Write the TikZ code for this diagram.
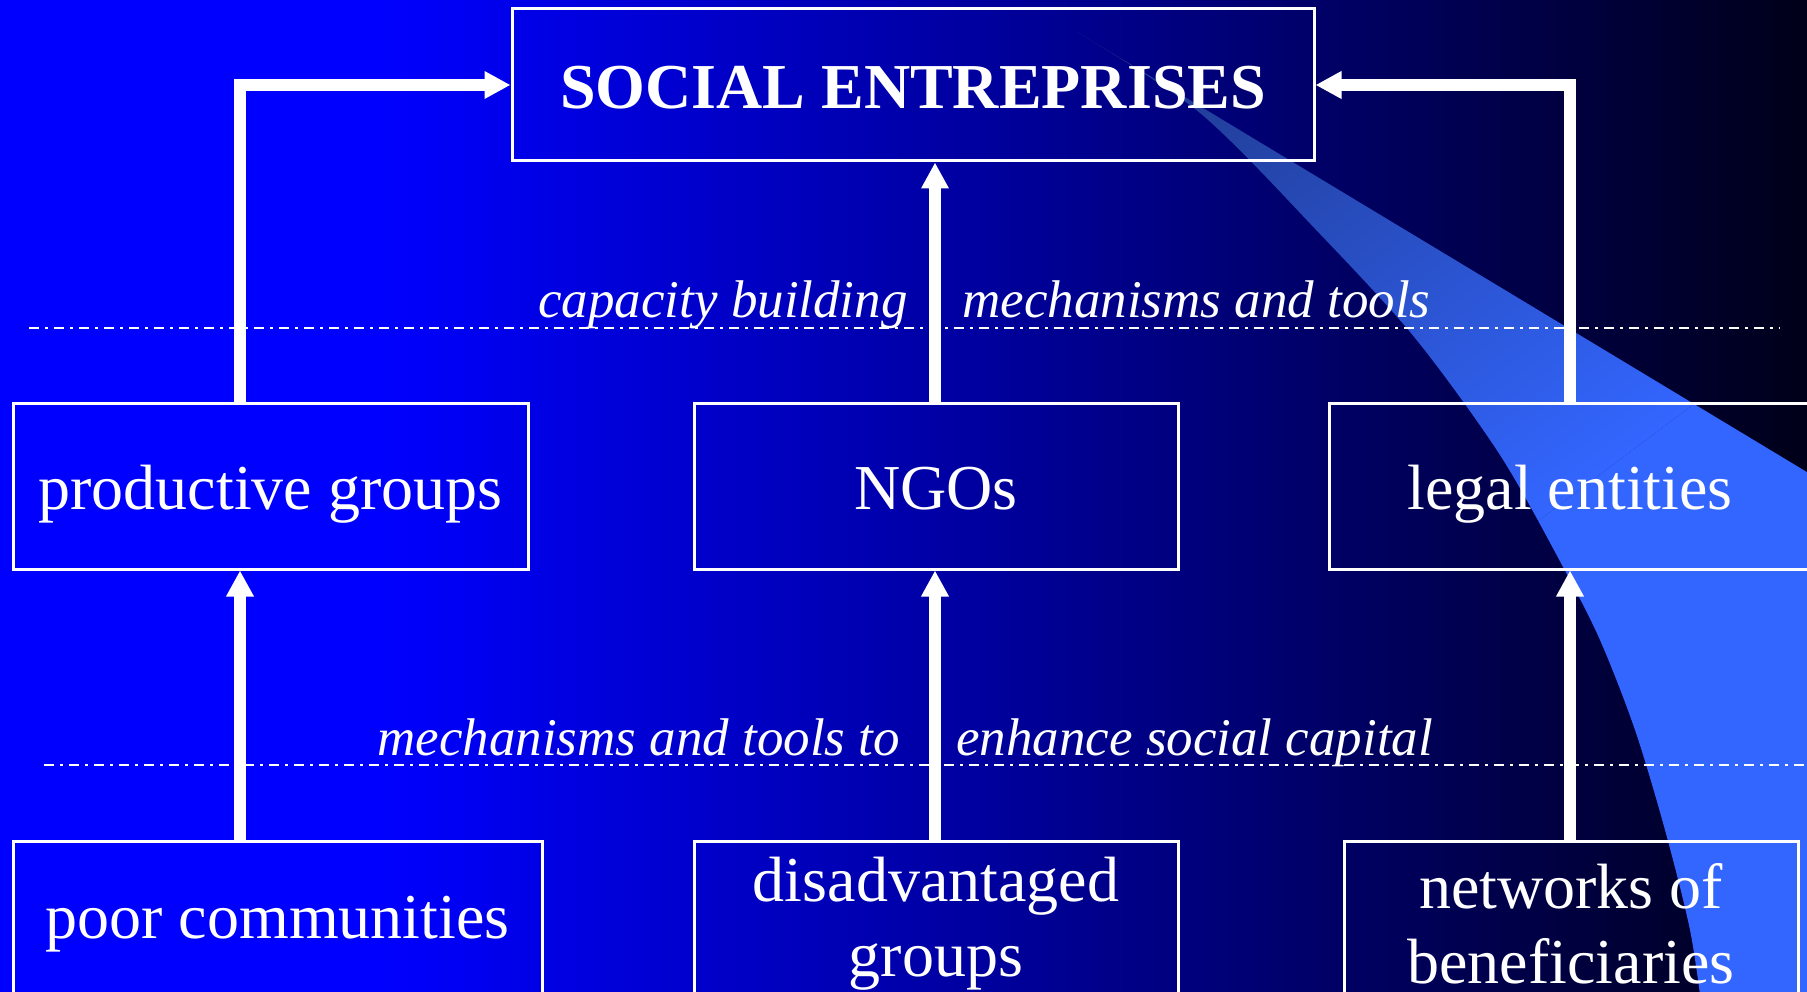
\documentclass[tikz,border=0pt]{standalone}
\usepackage{fontspec}
\setmainfont{Liberation Serif}
\usetikzlibrary{arrows.meta,calc}
\definecolor{bgA}{RGB}{0,0,255}
\definecolor{bgB}{RGB}{0,0,25}
\definecolor{swA}{RGB}{30,55,135}
\definecolor{swB}{RGB}{51,102,255}
\pgfdeclarehorizontalshading{bgshade}{100bp}{color(0bp)=(bgA); color(35.5bp)=(bgA); color(75bp)=(bgB); color(100bp)=(bgB)}
\begin{document}
\begin{tikzpicture}[x=1pt,y=-1pt,
  box/.style={draw=white, line width=3pt, minimum height=166pt, inner sep=0pt,
    text=white, align=center, font=\fontsize{64}{75}\selectfont},
  lowtext/.style={text height=60pt, text depth=14pt},
  arr/.style={draw=white, line width=12pt, -{Triangle[length=26pt,width=26pt]}},
  ddline/.style={draw=white, line width=2.5pt, dash pattern=on 10pt off 6pt on 3pt off 6pt},
  lbl/.style={text=white, inner sep=0pt, anchor=base west, font=\fontsize{53}{60}\selectfont\itshape}]
\useasboundingbox (0,0) rectangle (1807,992);
\clip (0,0) rectangle (1807,992);
% background
\shade[shading=bgshade] (0,0) rectangle (1807,992);
% light blue swoosh
\begin{scope}
  \clip plot[smooth] coordinates {(1077,32) (1200,113) (1320,234) (1415,338) (1500,455) (1562,565) (1600,640) (1635,730) (1665,830) (1690,930) (1702,1010)}
    -- (1830,1010) -- (1830,486) -- cycle;
  \begin{scope}[transform canvas={rotate around={36.87:(1350,262)}}]
    \fill[swA] (-200,-2000) rectangle (2900,-58);
    \shade[top color=swA, bottom color=swB] (-200,-58) rectangle (2900,582);
    \fill[swB] (-200,582) rectangle (2900,2600);
  \end{scope}
\end{scope}
% dash-dot lines
\coordinate (d1a) at (29,328);
\coordinate (d1b) at (1780,328);
\coordinate (d2a) at (44,765);
\coordinate (d2b) at (1807,765);
\draw[ddline] (d1a) -- (d1b);
\draw[ddline] (d2a) -- (d2b);
% labels
\node[lbl] (l1) at (538,317) {capacity building};
\node[lbl] (l2) at (962,317) {mechanisms and tools};
\node[lbl] (l3) at (377,755) {mechanisms and tools to};
\node[lbl] (l4) at (956,755) {enhance social capital};
% boxes
\node[box, minimum width=802pt, minimum height=152pt, text height=48pt, text depth=0pt, font=\fontsize{64}{75}\selectfont\bfseries] (top) at (913,85) {SOCIAL ENTREPRISES};
\node[box, lowtext, minimum width=515pt] (pg) at (270.5,486) {productive groups};
\node[box, lowtext, minimum width=484pt] (ngo) at (936,486) {NGOs};
\node[box, lowtext, minimum width=482pt] (le) at (1570,486) {legal entities};
\node[box, minimum width=529pt] (poor) at (277.5,924) {poor communities};
\node[box, minimum width=484pt] (dis) at (936,924) {disadvantaged\\groups};
\node[box, minimum width=454pt] (net) at (1571,924) {networks of\\beneficiaries};
% arrow columns
\coordinate (xl) at (240,0);
\coordinate (xm) at (935,0);
\coordinate (xr) at (1570,0);
\draw[arr] (pg.north -| xl) |- (top.west);
\draw[arr] (ngo.north -| xm) -- (top.south -| xm);
\draw[arr] (le.north -| xr) |- (top.east);
\draw[arr] (poor.north -| xl) -- (pg.south -| xl);
\draw[arr] (dis.north -| xm) -- (ngo.south -| xm);
\draw[arr] (net.north -| xr) -- (le.south -| xr);
\end{tikzpicture}
\end{document}
